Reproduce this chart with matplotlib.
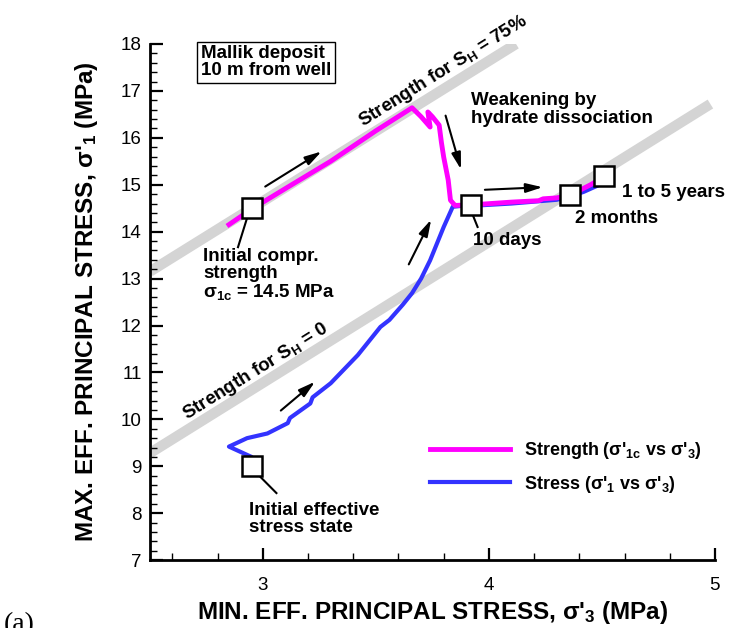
import numpy as np
import matplotlib.pyplot as plt
from matplotlib.ticker import MultipleLocator

plt.rcParams['font.family'] = ['Liberation Sans', 'DejaVu Sans']
plt.rcParams['mathtext.fontset'] = 'custom'
plt.rcParams['mathtext.rm'] = 'Liberation Sans:bold'
plt.rcParams['mathtext.it'] = 'Liberation Sans:bold'
plt.rcParams['mathtext.bf'] = 'Liberation Sans:bold'

# strength path (sigma'_1c vs sigma'_3)
strength_x = [2.85, 2.95, 3.10, 3.30, 3.50, 3.66, 3.70, 3.74, 3.73, 3.75, 3.78, 3.79, 3.80,
              3.82, 3.83, 3.85, 3.92, 4.10, 4.22, 4.24, 4.30, 4.36, 4.45, 4.51]
strength_y = [14.15, 14.48, 14.92, 15.50, 16.15, 16.64, 16.45, 16.23, 16.55, 16.45, 16.27, 15.90, 15.59,
              15.10, 14.67, 14.56, 14.57, 14.63, 14.66, 14.70, 14.72, 14.78, 15.00, 15.17]

# stress path (sigma'_1 vs sigma'_3)
stress_x = [2.96, 2.95, 2.85, 2.93, 3.02, 3.11, 3.12, 3.21, 3.22, 3.30, 3.42, 3.52, 3.56, 3.62,
            3.66, 3.70, 3.74, 3.80, 3.84, 3.88, 3.92, 4.10, 4.30, 4.36, 4.42, 4.48]
stress_y = [9.00, 9.20, 9.42, 9.60, 9.70, 9.92, 10.03, 10.34, 10.47, 10.77, 11.37, 11.97, 12.12, 12.45,
            12.69, 13.00, 13.39, 14.10, 14.53, 14.55, 14.55, 14.60, 14.68, 14.75, 14.85, 14.98]

# strength envelopes (grey bands)
env75_x = [2.5, 4.12]
env75_y = [13.15, 18.0]
env0_x = [2.5, 4.98]
env0_y = [9.28, 16.72]

# time markers
mark_x = [2.95, 2.95, 3.92, 4.36, 4.51]
mark_y = [14.50, 9.00, 14.57, 14.78, 15.18]

fig = plt.figure(figsize=(7.31, 6.28), dpi=100)
ax = fig.add_axes([0.205, 0.108, 0.773, 0.822])

ax.plot(env75_x, env75_y, color='#d4d4d4', lw=7.5, solid_capstyle='butt', zorder=1)
ax.plot(env0_x, env0_y, color='#d4d4d4', lw=7.5, solid_capstyle='butt', zorder=1)
ln2, = ax.plot(stress_x, stress_y, color='#3333ff', lw=3, zorder=2,
               label="Stress (σ'$_1$ vs σ'$_3$)")
ln1, = ax.plot(strength_x, strength_y, color='#ff00ff', lw=3.5, zorder=3,
               label="Strength (σ'$_{1c}$ vs σ'$_3$)")
ax.plot(mark_x, mark_y, 's', ms=14, mfc='white', mec='black', mew=1.8, ls='none', zorder=5)

ax.set_xlim(2.5, 5)
ax.set_ylim(7, 18)
ax.xaxis.set_major_locator(MultipleLocator(1))
ax.xaxis.set_minor_locator(MultipleLocator(0.2))
ax.yaxis.set_major_locator(MultipleLocator(1))
ax.yaxis.set_minor_locator(MultipleLocator(0.2))
ax.tick_params(which='major', direction='in', length=9, width=1.6, labelsize=13.5)
ax.tick_params(which='minor', direction='in', length=5, width=1)
ax.tick_params(axis='x', pad=12)
ax.tick_params(axis='y', pad=6)
ax.spines['top'].set_visible(False)
ax.spines['right'].set_visible(False)
ax.spines['left'].set_linewidth(2)
ax.spines['bottom'].set_linewidth(2)

ax.set_xlabel("MIN. EFF. PRINCIPAL STRESS, σ'$_3$ (MPa)", fontsize=17.5, fontweight='bold', labelpad=4)
ax.set_ylabel("MAX. EFF. PRINCIPAL STRESS, σ'$_1$ (MPa)", fontsize=17.5, fontweight='bold', labelpad=15)

bold = dict(fontsize=13.5, fontweight='bold')
ax.text(2.725, 17.97, "Mallik deposit\n10 m from well", va='top', ha='left', linespacing=1.0,
        bbox=dict(boxstyle='square,pad=0.2', fc='white', ec='black', lw=1), **bold)
ax.text(3.80, 17.42, "Strength for S$_H$ = 75%", rotation=32, ha='center', va='center', **bold)
ax.text(2.97, 11.02, "Strength for S$_H$ = 0", rotation=32, ha='center', va='center', **bold)
ax.text(3.92, 16.97, "Weakening by\nhydrate dissociation", ha='left', va='top', linespacing=1.05, **bold)
ax.text(2.735, 13.65, "Initial compr.\nstrength\nσ$_{1c}$ = 14.5 MPa", ha='left', va='top',
        linespacing=1.0, **bold)
ax.text(2.94, 8.25, "Initial effective\nstress state", ha='left', va='top', linespacing=1.0, **bold)
ax.text(3.93, 13.82, "10 days", ha='left', va='center', **bold)
ax.text(4.38, 14.29, "2 months", ha='left', va='center', **bold)
ax.text(4.59, 14.84, "1 to 5 years", ha='left', va='center', **bold)

# arrows
arr = dict(arrowstyle='-|>,head_length=1.0,head_width=0.28', color='black', lw=1.5)
for (x0, y0, x1, y1) in [(3.00, 14.93, 3.27, 15.74), (3.805, 16.53, 3.88, 15.27),
                         (3.97, 14.89, 4.25, 14.95), (3.64, 13.25, 3.75, 14.31),
                         (3.07, 10.15, 3.24, 10.84)]:
    ax.annotate('', xy=(x1, y1), xytext=(x0, y0), arrowprops=arr)

# leader lines
for (x0, y0, x1, y1) in [(2.93, 14.29, 2.89, 13.67), (3.925, 14.40, 3.95, 14.10),
                         (2.99, 8.77, 3.06, 8.43)]:
    ax.plot([x0, x1], [y0, y1], color='black', lw=1.5, zorder=4)

ax.legend(handles=[ln1, ln2], loc='center left', bbox_to_anchor=(0.48, 0.18), frameon=False,
          handlelength=4.4, handletextpad=0.8, labelspacing=0.7, borderpad=0,
          prop=dict(size=13, weight='bold'))

fig.text(0.005, 0.026, "(a)", fontsize=20, family='Liberation Serif', va='top', ha='left')

fig.savefig('out.png', dpi=100)
